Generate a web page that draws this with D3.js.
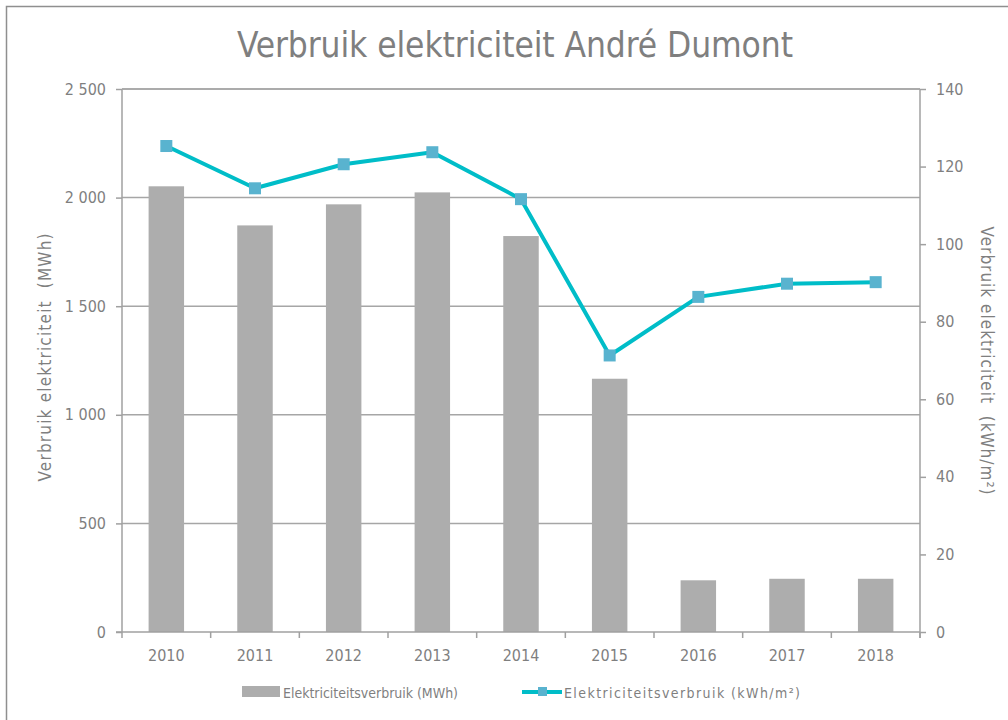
<!DOCTYPE html>
<html>
<head>
<meta charset="utf-8">
<script src="https://cdn.jsdelivr.net/npm/d3@7"></script>
<style>
    body { margin: 0; background: #fff; }
    text { font-family: "DejaVu Sans Condensed", "Liberation Sans", sans-serif; fill: #7f7f7f; }
</style>
</head>
<body>
<div id="viz"></div>
<script>
const years = ["2010", "2011", "2012", "2013", "2014", "2015", "2016", "2017", "2018"];
const mwh = [2052, 1872, 1969, 2024, 1823, 1166, 238, 245, 245];
const kwhM2 = [125.3, 114.4, 120.6, 123.7, 111.6, 71.3, 86.4, 89.8, 90.2];
const leftTicks = [0, 500, 1000, 1500, 2000, 2500];
const rightTicks = [0, 20, 40, 60, 80, 100, 120, 140];

document.addEventListener("DOMContentLoaded", () => {
    const width = 1008;
    const height = 720;
    const margin = { top: 89, right: 88, bottom: 88, left: 122 };
    const font = '"DejaVu Sans Condensed", "Liberation Sans", sans-serif';

    const svg = d3.select('#viz').append('svg')
        .attr('width', width)
        .attr('height', height);

    // chart frame
    svg.append('rect')
        .attr('x', 6.5).attr('y', 6.5)
        .attr('width', width + 20).attr('height', height + 20)
        .attr('fill', 'none')
        .attr('stroke', '#8f8f8f')
        .attr('stroke-width', 1.5);

    const x = d3.scaleBand()
        .domain(years)
        .range([margin.left, width - margin.right])
        .paddingInner(0.6)
        .paddingOuter(0.3);

    const yLeft = d3.scaleLinear()
        .domain([0, 2500])
        .range([height - margin.bottom, margin.top]);

    const yRight = d3.scaleLinear()
        .domain([0, 140])
        .range([height - margin.bottom, margin.top]);

    const fmt = d => d3.format(",")(d).replace(/,/g, " ");

    // gridlines
    svg.append('g')
        .selectAll('line')
        .data(leftTicks.filter(d => d > 0))
        .enter()
        .append('line')
        .attr('x1', margin.left).attr('x2', width - margin.right)
        .attr('y1', d => yLeft(d)).attr('y2', d => yLeft(d))
        .attr('stroke', '#a6a6a6')
        .attr('stroke-width', 1.5);

    // bars
    svg.append('g')
        .selectAll('rect')
        .data(years)
        .enter()
        .append('rect')
        .attr('x', d => x(d))
        .attr('y', (d, i) => yLeft(mwh[i]))
        .attr('width', x.bandwidth())
        .attr('height', (d, i) => yLeft(0) - yLeft(mwh[i]))
        .attr('fill', '#adadad');

    // axes
    const leftAxis = svg.append('g')
        .attr('transform', `translate(${margin.left},0)`)
        .call(d3.axisLeft(yLeft).tickValues(leftTicks).tickFormat(fmt).tickSize(6).tickPadding(10));

    const rightAxis = svg.append('g')
        .attr('transform', `translate(${width - margin.right},0)`)
        .call(d3.axisRight(yRight).tickValues(rightTicks).tickSize(6).tickPadding(10));

    const xAxis = svg.append('g')
        .attr('transform', `translate(0,${height - margin.bottom})`)
        .call(d3.axisBottom(x).tickSize(0).tickPadding(18));

    // x ticks at category boundaries
    const step = x.step();
    svg.append('g')
        .selectAll('line')
        .data(d3.range(years.length + 1))
        .enter()
        .append('line')
        .attr('x1', i => margin.left + i * step)
        .attr('x2', i => margin.left + i * step)
        .attr('y1', height - margin.bottom)
        .attr('y2', height - margin.bottom + 6)
        .attr('stroke', '#a0a0a0')
        .attr('stroke-width', 1.5);

    [leftAxis, rightAxis, xAxis].forEach(a => {
        a.selectAll('path, line').attr('stroke', '#a0a0a0').attr('stroke-width', 1.5);
        a.selectAll('text')
            .attr('fill', '#7f7f7f')
            .style('font-size', '16px')
            .style('font-family', font);
    });
    leftAxis.select('.domain').attr('d', `M0,${yLeft(0)}V${yLeft(2500)}`);
    rightAxis.select('.domain').attr('d', `M0,${yRight(0) + 6}V${yRight(140)}`);
    xAxis.select('.domain').attr('d', `M${margin.left - 6},0H${width - margin.right}`);

    // top border of plot (2500 gridline)
    svg.append('line')
        .attr('x1', margin.left).attr('x2', width - margin.right)
        .attr('y1', yLeft(2500)).attr('y2', yLeft(2500))
        .attr('stroke', '#a6a6a6')
        .attr('stroke-width', 1.5);

    // line series
    const line = d3.line()
        .x((d, i) => x(years[i]) + x.bandwidth() / 2)
        .y(d => yRight(d));

    svg.append('path')
        .datum(kwhM2)
        .attr('d', line)
        .attr('fill', 'none')
        .attr('stroke', '#00bdc8')
        .attr('stroke-width', 4)
        .attr('stroke-linejoin', 'round');

    svg.append('g')
        .selectAll('rect')
        .data(kwhM2)
        .enter()
        .append('rect')
        .attr('x', (d, i) => x(years[i]) + x.bandwidth() / 2 - 6)
        .attr('y', d => yRight(d) - 6)
        .attr('width', 12)
        .attr('height', 12)
        .attr('fill', '#59b3cf');

    // title
    svg.append('text')
        .attr('x', 515)
        .attr('y', 57)
        .attr('text-anchor', 'middle')
        .style('font-family', font)
        .style('font-size', '35px')
        .attr('fill', '#7f7f7f')
        .attr('textLength', 556)
        .text('Verbruik elektriciteit André Dumont');

    // axis titles
    svg.append('text')
        .attr('transform', `translate(51,${(margin.top + height - margin.bottom) / 2 - 3}) rotate(-90)`)
        .attr('text-anchor', 'middle')
        .style('font-family', font)
        .style('font-size', '17px')
        .attr('fill', '#8c8c8c')
        .attr('textLength', 248)
        .text('Verbruik elektriciteit  (MWh)')
        .attr('xml:space', 'preserve');

    svg.append('text')
        .attr('transform', `translate(981,${(margin.top + height - margin.bottom) / 2}) rotate(90)`)
        .attr('text-anchor', 'middle')
        .style('font-family', font)
        .style('font-size', '17px')
        .attr('fill', '#8c8c8c')
        .attr('textLength', 268)
        .text('Verbruik elektriciteit  (kWh/m²)')
        .attr('xml:space', 'preserve');

    // legend
    const legend = svg.append('g');
    legend.append('rect')
        .attr('x', 242).attr('y', 686)
        .attr('width', 38).attr('height', 11)
        .attr('fill', '#adadad');
    legend.append('text')
        .attr('x', 283).attr('y', 698)
        .style('font-family', font)
        .style('font-size', '14px')
        .attr('fill', '#7f7f7f')
        .attr('textLength', 175)
        .text('Elektriciteitsverbruik (MWh)');
    legend.append('line')
        .attr('x1', 522).attr('x2', 562)
        .attr('y1', 692).attr('y2', 692)
        .attr('stroke', '#00bdc8')
        .attr('stroke-width', 4);
    legend.append('rect')
        .attr('x', 538).attr('y', 687)
        .attr('width', 9).attr('height', 9)
        .attr('fill', '#59b3cf');
    legend.append('text')
        .attr('x', 564).attr('y', 698)
        .style('font-family', font)
        .style('font-size', '14px')
        .attr('fill', '#7f7f7f')
        .attr('textLength', 236)
        .text('Elektriciteitsverbruik (kWh/m²)');
});
</script>
</body>
</html>
